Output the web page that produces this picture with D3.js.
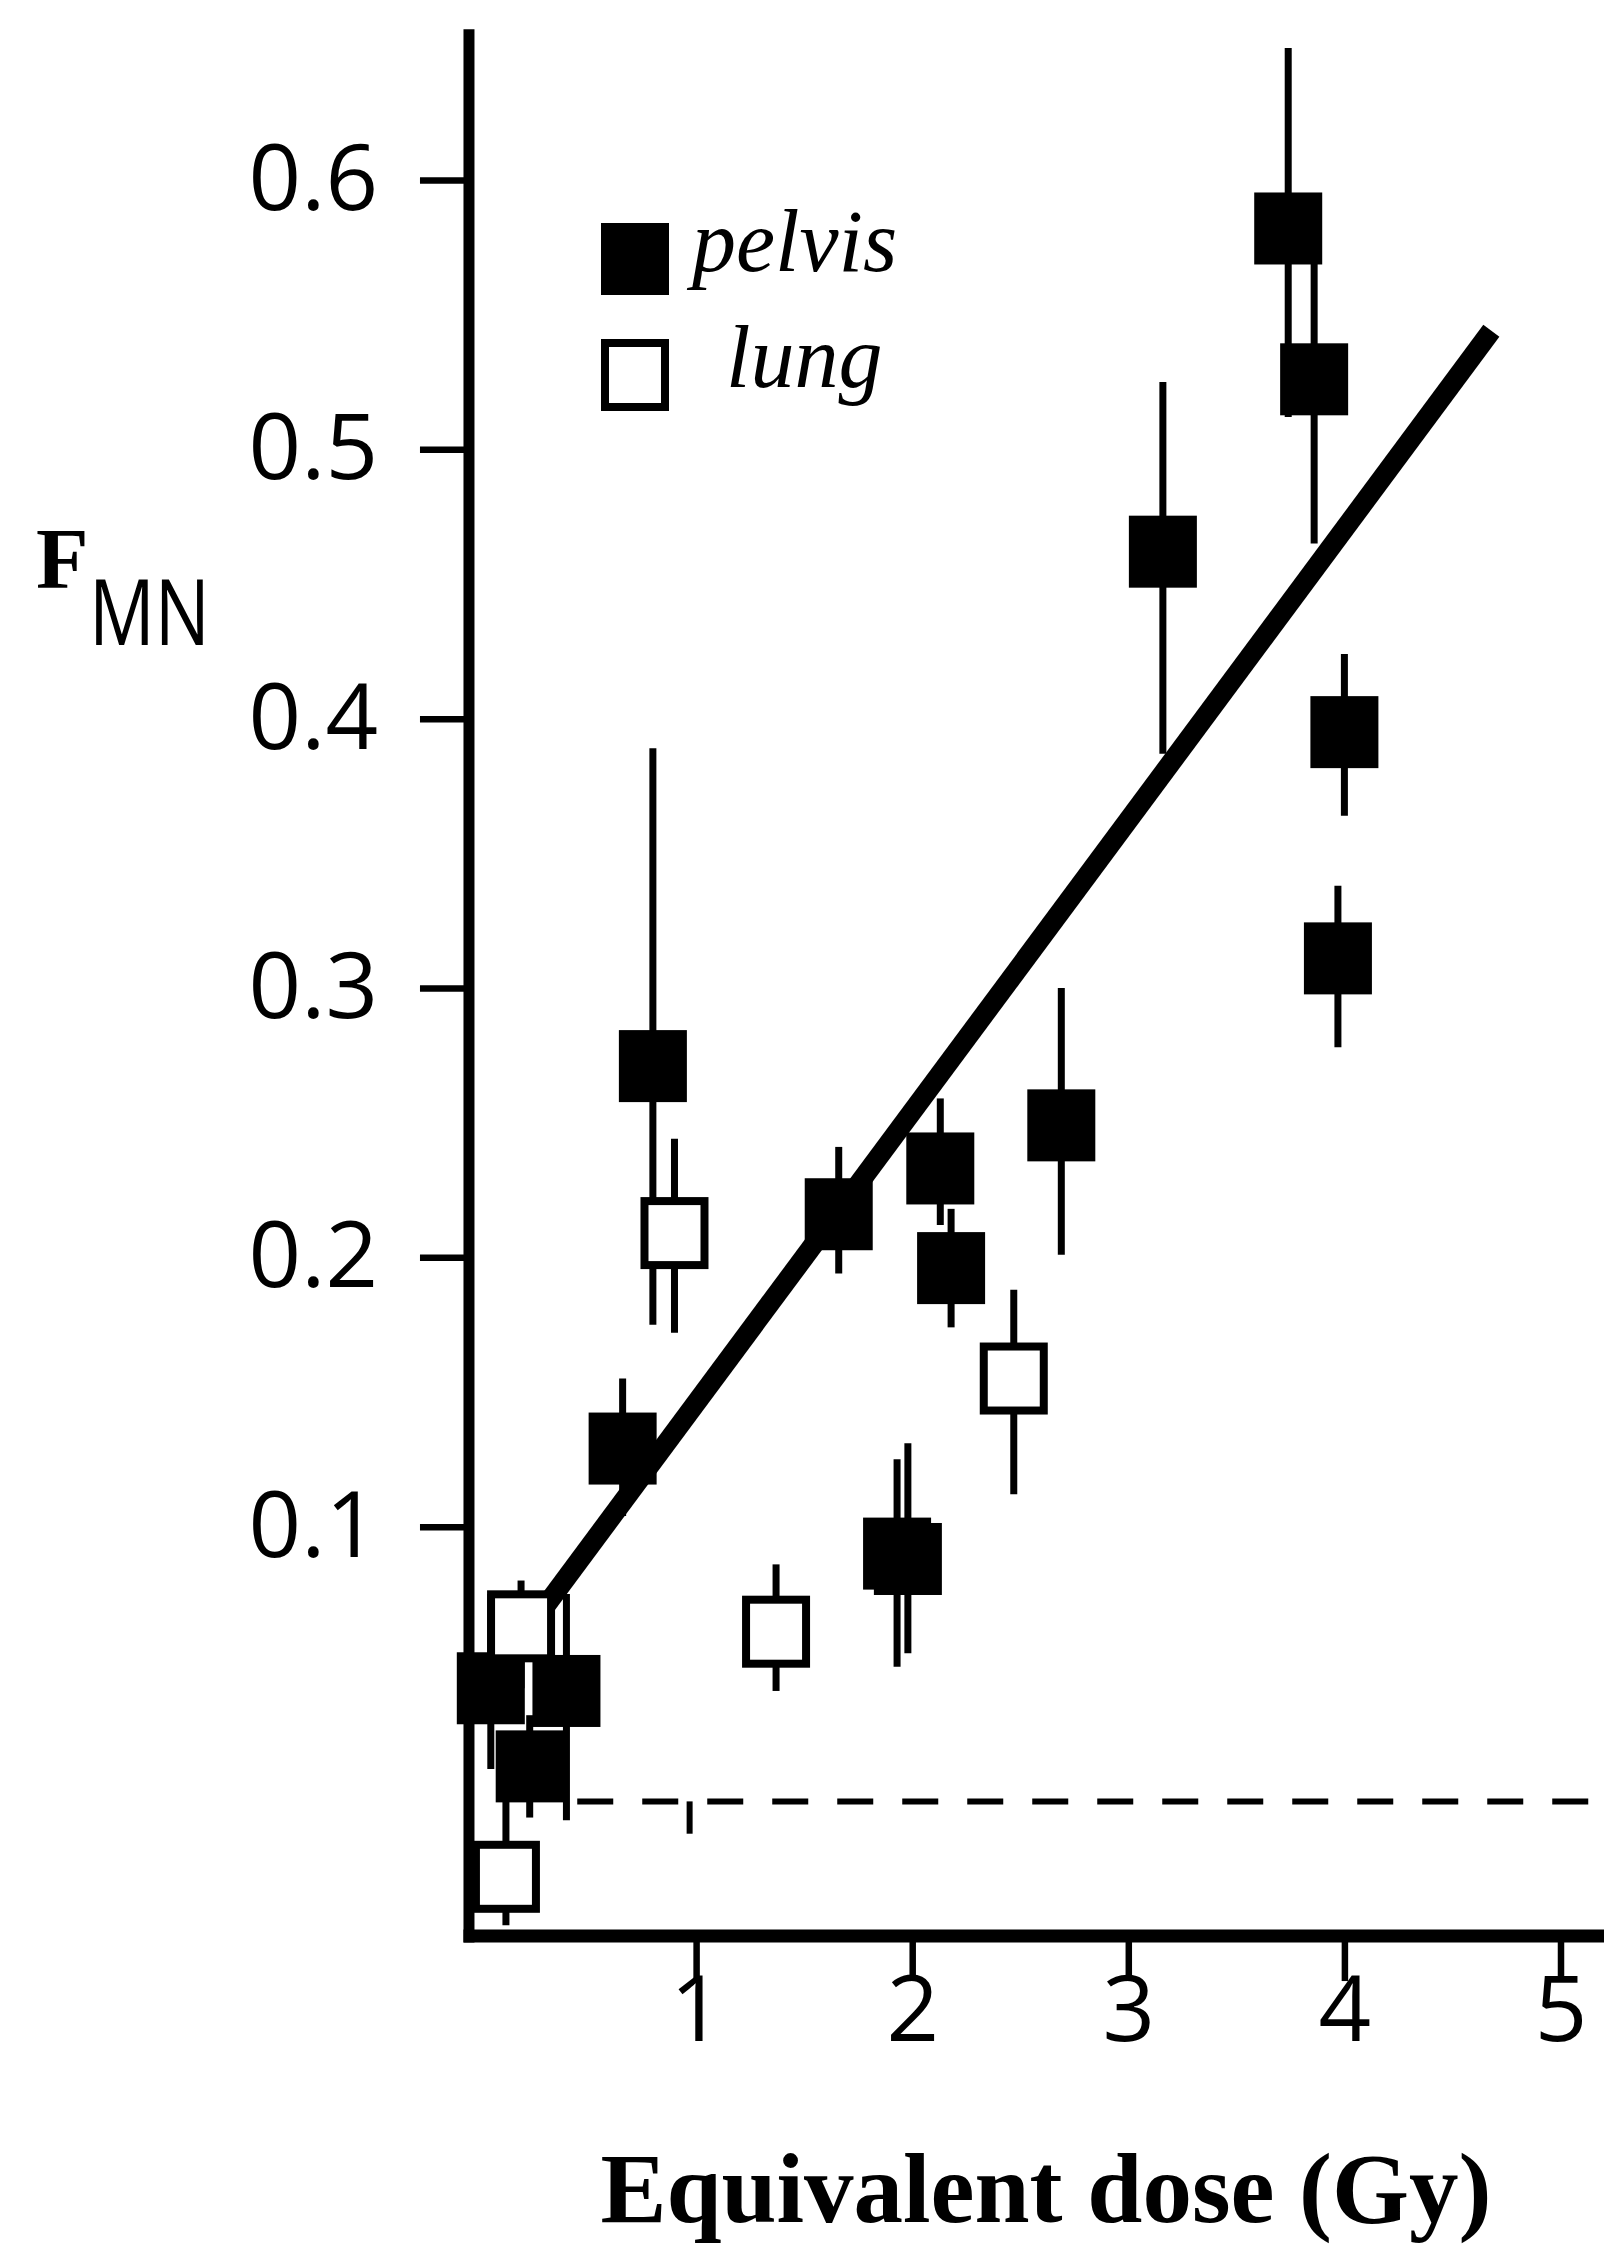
<!DOCTYPE html>
<html>
<head>
<meta charset="utf-8">
<script src="https://cdn.jsdelivr.net/npm/d3@7/dist/d3.min.js"></script>
<style>
	html, body { margin: 0; padding: 0; background: #fff; }
	svg { display: block; }
	.tick text { font-family: "Open Sans", sans-serif; font-size: 92px; fill: #000; }
	.tick line { stroke: #000; stroke-width: 6.5; }
</style>
</head>
<body>
<div id="chart"></div>
<script>
// Values: dose in Gy, F_MN, and the two ends of each error bar
const pelvisDose = [0.05, 0.40, 0.23, 0.66, 0.80, 1.66, 1.93, 1.98, 2.13, 2.18, 2.69, 3.16, 3.74, 3.86, 3.97, 4.00];
const pelvisF    = [0.040, 0.039, 0.011, 0.129, 0.271, 0.216, 0.090, 0.088, 0.233, 0.196, 0.249, 0.462, 0.582, 0.526, 0.311, 0.395];
const pelvisLow  = [0.010, -0.009, -0.008, 0.104, 0.175, 0.194, 0.048, 0.053, 0.212, 0.174, 0.201, 0.387, 0.512, 0.465, 0.278, 0.364];
const pelvisHigh = [0.075, 0.075, 0.030, 0.155, 0.389, 0.241, 0.125, 0.131, 0.259, 0.218, 0.300, 0.525, 0.649, 0.588, 0.338, 0.424];

const lungDose = [0.19, 0.12, 0.90, 1.37, 2.47];
const lungF    = [0.063, -0.030, 0.209, 0.061, 0.155];
const lungLow  = [0.040, -0.048, 0.172, 0.039, 0.112];
const lungHigh = [0.080, 0.000, 0.244, 0.086, 0.188];

// regression line end points
const fitDose = [0.15, 4.68];
const fitF    = [0.054, 0.544];

// control level (dashed) and its error bar
const baselineDose = [0.45, 5.21];
const baselineF    = -0.002;
const baselineErrDose = 0.97;
const baselineErrLow  = -0.014;

const xTicks = [1, 2, 3, 4, 5];
const yTicks = [0.1, 0.2, 0.3, 0.4, 0.5, 0.6];
const legendLabels = ["pelvis", "lung"];

class DoseChart {
	width; height;
	svg; plot;
	scaleX; scaleY;
	markW = 68; markH = 72;

	constructor(container, width, height) {
		this.width = width;
		this.height = height;
		this.svg = d3.select(container).append("svg")
			.attr("width", width).attr("height", height);
		this.plot = this.svg.append("g");
	}

	#updateScales() {
		this.scaleX = d3.scaleLinear([0, 5], [480, 1560.5]);
		this.scaleY = d3.scaleLinear([0, 0.6], [1796, 180]);
	}

	#drawFrame() {
		let x = this.scaleX, y = this.scaleY;
		let axisX0 = x(-0.051), axisY0 = y(-0.052);

		// axis lines
		this.plot.append("line")
			.attr("x1", axisX0).attr("x2", axisX0)
			.attr("y1", y(0.656)).attr("y2", axisY0 + 6.5)
			.attr("stroke", "#000").attr("stroke-width", 11);
		this.plot.append("line")
			.attr("x1", axisX0 - 5.5).attr("x2", this.width)
			.attr("y1", axisY0).attr("y2", axisY0)
			.attr("stroke", "#000").attr("stroke-width", 13);

		let gy = this.plot.append("g")
			.attr("transform", `translate(${axisX0}, 0)`)
			.call(d3.axisLeft(y).tickValues(yTicks).tickSize(49).tickPadding(42)
				.tickFormat(d3.format(".1f")));
		gy.select(".domain").remove();

		let gx = this.plot.append("g")
			.attr("transform", `translate(0, ${axisY0})`)
			.call(d3.axisBottom(x).tickValues(xTicks).tickSize(45).tickFormat(d3.format("d")));
		gx.select(".domain").remove();
		gx.selectAll(".tick text").attr("y", 40);
	}

	#drawBaseline() {
		let x = this.scaleX, y = this.scaleY;
		this.plot.append("line")
			.attr("x1", x(baselineDose[0])).attr("x2", x(baselineDose[1]))
			.attr("y1", y(baselineF)).attr("y2", y(baselineF))
			.attr("stroke", "#000").attr("stroke-width", 6)
			.attr("stroke-dasharray", "36,29");
		this.plot.append("line")
			.attr("x1", x(baselineErrDose)).attr("x2", x(baselineErrDose))
			.attr("y1", y(baselineF)).attr("y2", y(baselineErrLow))
			.attr("stroke", "#000").attr("stroke-width", 6);
	}

	#errorBars(dose, low, high) {
		let x = this.scaleX, y = this.scaleY;
		this.plot.append("g").selectAll("line")
			.data(d3.range(dose.length))
			.join("line")
			.attr("x1", (i) => x(dose[i])).attr("x2", (i) => x(dose[i]))
			.attr("y1", (i) => y(high[i])).attr("y2", (i) => y(low[i]))
			.attr("stroke", "#000").attr("stroke-width", 7);
	}

	#fitLine() {
		let line = d3.line().x((d) => this.scaleX(d[0])).y((d) => this.scaleY(d[1]));
		this.plot.append("path")
			.attr("d", line(d3.zip(fitDose, fitF)))
			.attr("fill", "none").attr("stroke", "#000").attr("stroke-width", 20);
	}

	// filled = pelvis, open = lung
	#squares(dose, values, filled) {
		let x = this.scaleX, y = this.scaleY, w = this.markW, h = this.markH;
		let inset = filled ? 0 : 4;
		this.plot.append("g").selectAll("rect")
			.data(d3.range(dose.length))
			.join("rect")
			.attr("x", (i) => x(dose[i]) - w / 2 + inset)
			.attr("y", (i) => y(values[i]) - h / 2 + inset)
			.attr("width", w - 2 * inset).attr("height", h - 2 * inset)
			.attr("fill", filled ? "#000" : "#fff")
			.attr("stroke", filled ? "none" : "#000")
			.attr("stroke-width", filled ? 0 : 8);
	}

	#legend() {
		let w = this.markW, h = this.markH;
		let rows = [
			{ cy: 259, filled: true, tx: 692, label: legendLabels[0] },
			{ cy: 375, filled: false, tx: 726, label: legendLabels[1] }
		];
		let g = this.svg.append("g");
		rows.forEach((r) => {
			let inset = r.filled ? 0 : 4;
			g.append("rect")
				.attr("x", 635 - w / 2 + inset).attr("y", r.cy - h / 2 + inset)
				.attr("width", w - 2 * inset).attr("height", h - 2 * inset)
				.attr("fill", r.filled ? "#000" : "#fff")
				.attr("stroke", r.filled ? "none" : "#000")
				.attr("stroke-width", r.filled ? 0 : 8);
			g.append("text")
				.attr("x", r.tx).attr("y", r.cy + 12)
				.style("font-family", "'Liberation Serif', serif")
				.style("font-style", "italic").style("font-size", "88px")
				.text(r.label);
		});
	}

	#labels() {
		this.svg.append("text")
			.attr("x", 36).attr("y", 588)
			.style("font-family", "'Liberation Serif', serif")
			.style("font-weight", "bold").style("font-size", "86px")
			.text("F");
		this.svg.append("text")
			.attr("x", 89).attr("y", 645)
			.attr("textLength", 121).attr("lengthAdjust", "spacingAndGlyphs")
			.style("font-family", "'Open Sans', sans-serif").style("font-size", "92px")
			.text("MN");
		this.svg.append("text")
			.attr("x", 1046).attr("y", 2222)
			.style("text-anchor", "middle")
			.style("font-family", "'Liberation Serif', serif")
			.style("font-weight", "bold").style("font-size", "99px")
			.text("Equivalent dose (Gy)");
	}

	render() {
		this.#updateScales();
		this.#drawFrame();
		this.#drawBaseline();
		this.#errorBars(pelvisDose, pelvisLow, pelvisHigh);
		this.#errorBars(lungDose, lungLow, lungHigh);
		this.#fitLine();
		this.#squares(pelvisDose, pelvisF, true);
		this.#squares(lungDose, lungF, false);
		this.#legend();
		this.#labels();
		return this;
	}
}

new DoseChart("#chart", 1604, 2259).render();
</script>
</body>
</html>
